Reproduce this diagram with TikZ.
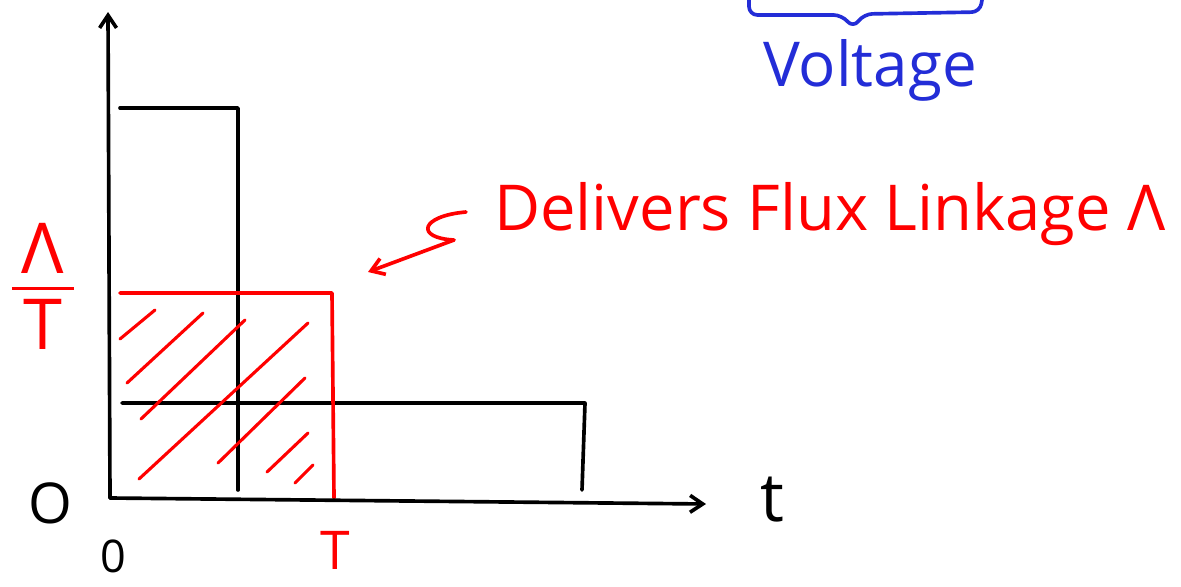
\documentclass[tikz,border=0pt]{standalone}
\usepackage{amsmath}
\usepackage{fontspec}
\setmainfont{Open Sans}
\usetikzlibrary{arrows.meta,positioning,calc}

\definecolor{penblue}{RGB}{35,45,215}
\tikzset{
  pen/.style={line width=2.6pt, line join=round, line cap=round},
  redpen/.style={pen, red},
  hatch/.style={red, line width=2.2pt, line cap=round},
  big/.style={inner sep=0pt, font=\fontsize{40}{44}\selectfont},
}

\begin{document}
\begin{tikzpicture}[x=0.025cm, y=-0.025cm, >={Straight Barb[length=9pt, width=12pt]}]
  \useasboundingbox (0,0) rectangle (1181,586);

  \coordinate (O) at (110,498);
  \coordinate (ytop) at (108,12);
  \coordinate (xend) at (706,504);

  % the three pulses
  \draw [pen] (120,108) -- (238,108) -- (238,490);
  \draw [pen] (122,403) -- (585,403) -- (582,490);
  \draw [redpen] (120,293) -- (332,293) -- (334,498);

  % shaded area under the red pulse
  \foreach \a/\b/\c/\d in {120/339/155/310, 127/383/203/313, 141/419/245/320,
                           139/479/308/323, 218/463/305/378, 267/472/308/433,
                           295/483/313/465}
    \draw [hatch] (\a,\b) -- (\c,\d);

  % axes
  \draw [pen, ->] (O) -- (ytop);
  \draw [pen, ->] (O) -- (xend);

  % axis labels
  \node (lamT) [big, red, font=\fontsize{50}{54}\selectfont] at (43,286)
    {$\genfrac{}{}{2.2pt}{0}{\text{Λ}}{\text{\,T\,}}$};
  \node (zero) [big] at (50,503) {O};
  \node (orig) [big, font=\fontsize{32}{36}\selectfont] at (113,556) {0};
  \node (Tlab) [big, red, font=\fontsize{38}{42}\selectfont] at (335,550) {T};
  \node (tlab) [big, font=\fontsize{48}{52}\selectfont] at (772,500) {t};

  % note with arrow
  \node (flux) [big, red, font=\fontsize{45}{50}\selectfont, anchor=west] at (494,214)
    {Delivers Flux Linkage Λ};
  \coordinate (sq) at (466,212);
  \coordinate (tip) at (368,272);
  \draw [redpen, ->] (sq) .. controls (420,216) and (415,238) .. (454,240) -- (tip);

  % brace and its label
  \draw [pen, penblue, rounded corners=6] (749,0) -- (749,15) -- (842,15)
    -- (853,28) -- (864,14) -- (980,12) -- (982,0);
  \node (volt) [big, penblue, font=\fontsize{44}{48}\selectfont] at (870,70) {Voltage};
\end{tikzpicture}
\end{document}
